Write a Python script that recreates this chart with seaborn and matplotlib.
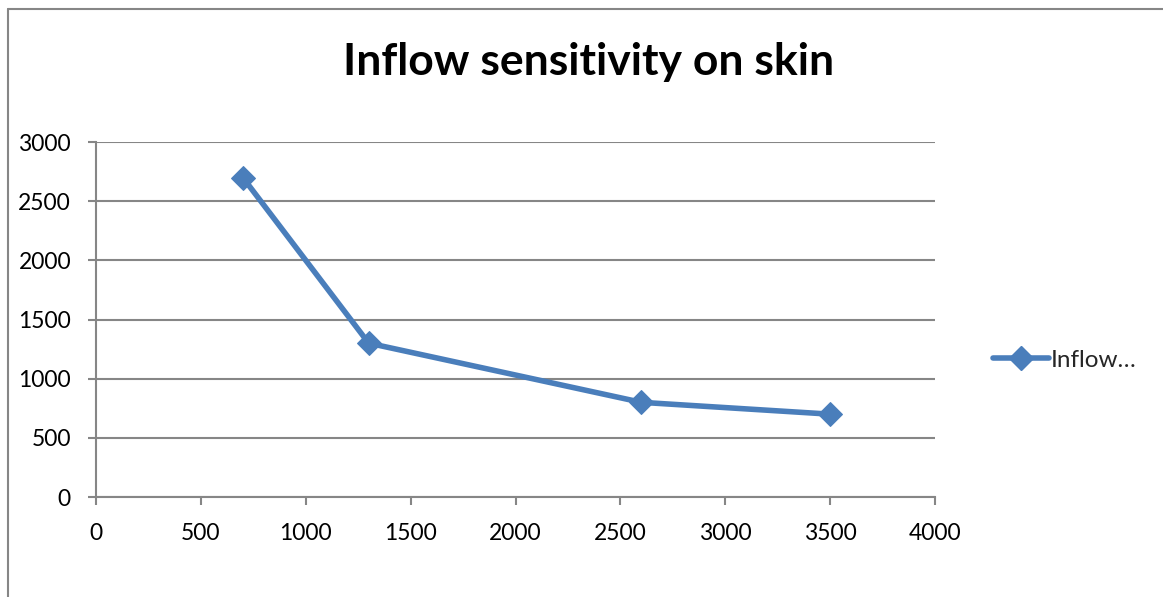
import matplotlib
matplotlib.use("Agg")
import matplotlib.pyplot as plt
import seaborn as sns
import pandas as pd
from matplotlib.lines import Line2D

# Series values
inflow = [700, 1300, 2600, 3500]
sensitivity = [2700, 1300, 800, 700]
x_ticks = [0, 500, 1000, 1500, 2000, 2500, 3000, 3500, 4000]
y_ticks = [0, 500, 1000, 1500, 2000, 2500, 3000]
series_name = "Inflow…"
title = "Inflow sensitivity on skin"

df = pd.DataFrame({"inflow": inflow, "sensitivity": sensitivity})

sns.set_theme(style="white")
plt.rcParams["font.family"] = ["Lato", "DejaVu Sans"]

blue = "#4A7EBB"
grey = "#868686"

fig = plt.figure(figsize=(11.63, 5.97), dpi=100)
ax = fig.add_axes([96 / 1163, 100 / 597, 839 / 1163, 355 / 597])

sns.lineplot(data=df, x="inflow", y="sensitivity", ax=ax, color=blue,
             linewidth=4, marker="D", markersize=12, markeredgecolor=blue,
             markerfacecolor=blue)

ax.set_xlim(0, 4000)
ax.set_ylim(0, 3000)
ax.set_xticks(x_ticks)
ax.set_yticks(y_ticks)
ax.set_xlabel("")
ax.set_ylabel("")
ax.grid(axis="y", color=grey, linewidth=1.5)
ax.grid(axis="x", visible=False)
ax.set_axisbelow(True)
for side in ["top", "right"]:
    ax.spines[side].set_visible(False)
for side in ["left", "bottom"]:
    ax.spines[side].set_color(grey)
    ax.spines[side].set_linewidth(1.5)
ax.tick_params(axis="both", which="major", direction="out", length=6,
               width=1.5, color=grey, labelsize=16.5, labelcolor="black",
               bottom=True, left=True)
ax.tick_params(axis="x", pad=13)
ax.tick_params(axis="y", pad=12)

fig.text(589 / 1163, 1 - 62 / 597, title, ha="center", va="center",
         fontsize=32, fontweight="bold", color="black")

handle = Line2D([0], [0], color=blue, linewidth=4, marker="D",
                markersize=12, markeredgecolor=blue)
fig.legend([handle], [series_name], loc="center left",
           bbox_to_anchor=(983 / 1163, 1 - 360 / 597), frameon=False,
           fontsize=17.5, handlelength=2.3, handletextpad=0.1,
           borderaxespad=0)

# Chart area border (left and top edges)
fig.add_artist(Line2D([8 / 1163, 8 / 1163], [0, 1 - 9 / 597],
                      transform=fig.transFigure, color=grey, linewidth=1.5))
fig.add_artist(Line2D([8 / 1163, 1], [1 - 9 / 597, 1 - 9 / 597],
                      transform=fig.transFigure, color=grey, linewidth=1.5))

fig.savefig("out.png", dpi=100, facecolor="white")
